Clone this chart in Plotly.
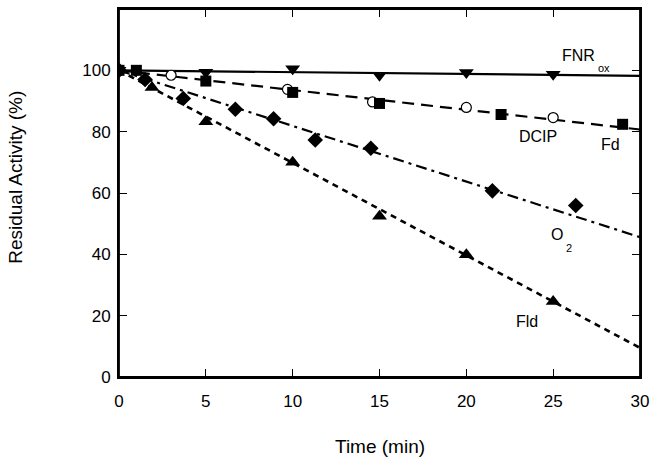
import plotly.graph_objects as go

# ---- data ----
fnr_x = [0, 5, 10, 15, 20, 25]
fnr_y = [100, 99.4, 100.5, 98.4, 99.3, 98.7]

fd_x = [0, 1, 5, 10, 15, 22, 29]
fd_y = [100, 100, 96.5, 92.8, 89.2, 85.6, 82.4]

dcip_x = [0, 3, 9.7, 14.6, 20, 25]
dcip_y = [100, 98.4, 93.8, 89.7, 87.9, 84.6]

o2_x = [0, 1.5, 3.7, 6.7, 8.9, 11.3, 14.5, 21.5, 26.3]
o2_y = [100, 97, 90.8, 87.3, 84.2, 77.3, 74.6, 60.7, 55.9]

fld_x = [0, 1.9, 5, 10, 15, 20, 25]
fld_y = [100, 94.4, 83.2, 70, 52.4, 39.9, 24.6]

fit_x = [0, 30]
fnr_fit = [100, 98.2]
fd_fit = [100, 80.7]
o2_fit = [100, 45.6]
fld_fit = [100, 9.5]

x_ticks = [0, 5, 10, 15, 20, 25, 30]
y_ticks = [0, 20, 40, 60, 80, 100]

FONT = "Liberation Sans, Arial, sans-serif"
fig = go.Figure()

# fit lines
fig.add_trace(go.Scatter(x=fit_x, y=fnr_fit, mode="lines",
                         line=dict(color="black", width=2.2)))
fig.add_trace(go.Scatter(x=fit_x, y=fd_fit, mode="lines",
                         line=dict(color="black", width=2.2, dash="12px,7px")))
fig.add_trace(go.Scatter(x=fit_x, y=o2_fit, mode="lines",
                         line=dict(color="black", width=2.2, dash="11px,5px,3px,5px")))
fig.add_trace(go.Scatter(x=fit_x, y=fld_fit, mode="lines",
                         line=dict(color="black", width=2.6, dash="6px,5px")))

# markers
fig.add_trace(go.Scatter(x=fnr_x, y=fnr_y, mode="markers",
                         marker=dict(symbol="triangle-down", size=13, color="black")))
fig.add_trace(go.Scatter(x=dcip_x, y=dcip_y, mode="markers",
                         marker=dict(symbol="circle", size=10, color="white",
                                     line=dict(width=1.2, color="black"))))
fig.add_trace(go.Scatter(x=fd_x, y=fd_y, mode="markers",
                         marker=dict(symbol="square", size=11, color="black")))
fig.add_trace(go.Scatter(x=o2_x, y=o2_y, mode="markers",
                         marker=dict(symbol="diamond", size=12, color="black")))
fig.add_trace(go.Scatter(x=fld_x, y=fld_y, mode="markers",
                         marker=dict(symbol="triangle-up", size=13, color="black")))

# series labels (main text, subscript)
labels = [
    (26.45, 104.9, "FNR", 16),
    (27.9, 100.7, "ox", 11),
    (24.1, 78.4, "DCIP", 16),
    (28.3, 75.8, "Fd", 16),
    (25.2, 46.4, "O", 16),
    (25.9, 42.2, "2", 11),
    (23.5, 18.0, "Fld", 16),
]
for lx, ly, lt, fs in labels:
    fig.add_annotation(x=lx, y=ly, text=lt, showarrow=False,
                       font=dict(family=FONT, size=fs, color="black"))

# axis titles
fig.add_annotation(xref="paper", yref="paper", x=-0.198, y=0.5435, text="Residual Activity (%)",
                   textangle=-90, showarrow=False, xanchor="center", yanchor="middle",
                   font=dict(family=FONT, size=19, color="black"))
fig.add_annotation(xref="paper", yref="paper", x=0.5, y=-0.1875, text="Time (min)",
                   showarrow=False, xanchor="center", yanchor="middle",
                   font=dict(family=FONT, size=19, color="black"))

# plot frame
fig.add_shape(type="rect", xref="paper", yref="paper", x0=0, y0=0, x1=1, y1=1,
              line=dict(color="black", width=1.8), fillcolor="rgba(0,0,0,0)", layer="above")

axis_common = dict(showgrid=False, zeroline=False, showline=True, linecolor="black",
                   linewidth=1.8, mirror="ticks", ticks="inside", ticklen=8,
                   tickwidth=1.4, tickcolor="black", automargin=False,
                   tickfont=dict(family=FONT, size=17, color="black"))

fig.update_xaxes(range=[0, 30], tickvals=x_ticks, ticktext=[str(v) for v in x_ticks],
                 ticklabelstandoff=8, **axis_common)
fig.update_yaxes(range=[0, 120], tickvals=y_ticks, ticktext=[str(v) for v in y_ticks],
                 ticklabelstandoff=3, **axis_common)

fig.update_layout(width=654, height=462, showlegend=False, autosize=False,
                  plot_bgcolor="white", paper_bgcolor="white",
                  margin=dict(l=119, r=14, t=9, b=85))

fig.write_html("out.html", config={"displayModeBar": False},
               post_script="document.body.style.margin='0px';document.body.style.overflow='hidden';")
